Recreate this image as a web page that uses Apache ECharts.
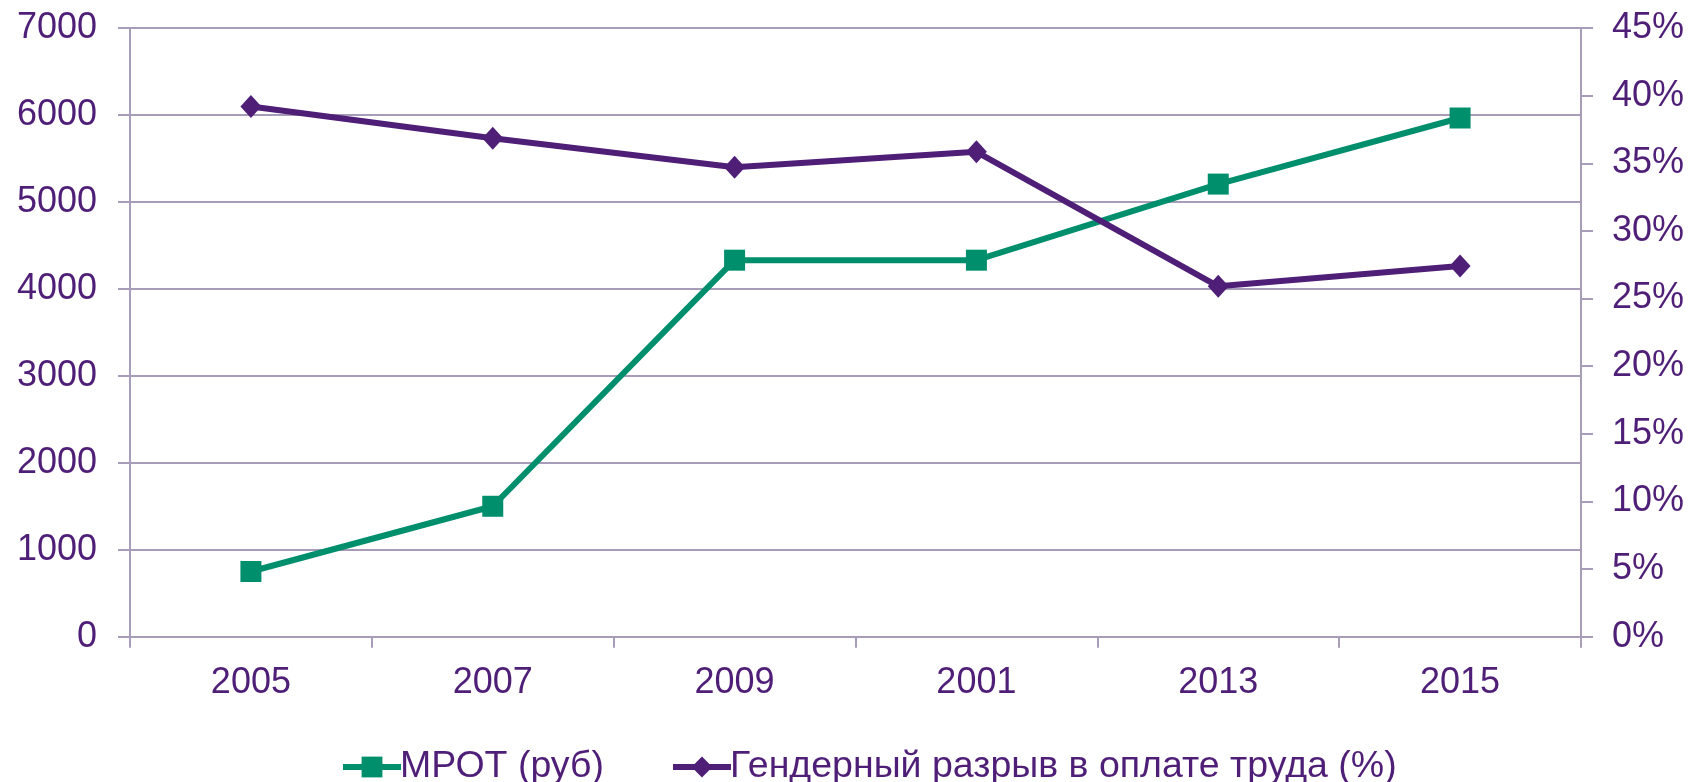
<!DOCTYPE html>
<html>
<head>
<meta charset="utf-8">
<style>
html,body{margin:0;padding:0;background:#fff;}
#chart{width:1692px;height:782px;}
</style>
<script src="https://cdn.jsdelivr.net/npm/echarts@6/dist/echarts.min.js"></script>
</head>
<body>
<div id="chart"></div>
<script>
const categories = ['2005', '2007', '2009', '2001', '2013', '2015'];
const mrot = [750, 1500, 4330, 4330, 5205, 5965];
const gap = [39.2, 36.85, 34.7, 35.85, 25.9, 27.4];
const seriesNames = ['МРОТ (руб)', 'Гендерный разрыв в оплате труда (%)'];

const green = '#008F6D';
const purple = '#4F1F78';
const gridCol = '#A89DB8';
const font = 'Liberation Sans, Arial, sans-serif';

const chart = echarts.init(document.getElementById('chart'));
chart.setOption({
  animation: false,
  textStyle: {fontFamily: font},
  grid: {left: 130, right: 111, top: 28, bottom: 145.3, containLabel: false},
  legend: {
    top: 747,
    left: 340,
    padding: 0,
    itemWidth: 58,
    itemHeight: 26,
    itemGap: 66,
    lineStyle: {width: 6},
    textStyle: {color: purple, fontSize: 37.5, fontFamily: font, padding: [0, 0, 0, -6], lineHeight: 40},
    data: seriesNames
  },
  xAxis: {
    type: 'category',
    data: categories,
    boundaryGap: true,
    axisLine: {show: true, lineStyle: {color: gridCol, width: 2}},
    axisTick: {show: true, length: 11, interval: 0, lineStyle: {color: gridCol, width: 2}},
    axisLabel: {color: purple, fontSize: 36, margin: 28, fontFamily: font},
    splitLine: {show: false}
  },
  yAxis: [
    {
      type: 'value', min: 0, max: 7000, interval: 1000,
      axisLine: {show: true, lineStyle: {color: gridCol, width: 2}},
      axisTick: {show: true, length: 12, lineStyle: {color: gridCol, width: 2}},
      axisLabel: {color: purple, fontSize: 36, margin: 33, fontFamily: font, formatter: function (v) { return String(v); }},
      splitLine: {show: true, lineStyle: {color: gridCol, width: 2}}
    },
    {
      type: 'value', min: 0, max: 45, interval: 5, position: 'right',
      axisLine: {show: true, lineStyle: {color: gridCol, width: 2}},
      axisTick: {show: true, length: 12, lineStyle: {color: gridCol, width: 2}},
      axisLabel: {color: purple, fontSize: 36, margin: 31, fontFamily: font, formatter: '{value}%'},
      splitLine: {show: false}
    }
  ],
  series: [
    {
      name: seriesNames[0], type: 'line', yAxisIndex: 0, data: mrot,
      symbol: 'rect', symbolSize: 21,
      lineStyle: {color: green, width: 6},
      itemStyle: {color: green},
      z: 3
    },
    {
      name: seriesNames[1], type: 'line', yAxisIndex: 1, data: gap,
      symbol: 'diamond', symbolSize: [21, 23],
      lineStyle: {color: purple, width: 6},
      itemStyle: {color: purple},
      z: 4
    }
  ]
});
</script>
</body>
</html>
